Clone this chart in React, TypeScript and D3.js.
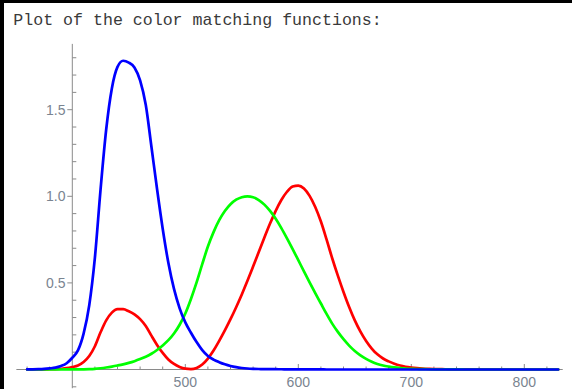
import React from "react";
import * as d3 from "d3";

// CIE 1931 2° standard observer, sampled every 5 nm
const wavelengths = [
  360, 365, 370, 375, 380, 385, 390, 395, 400, 405, 410, 415, 420, 425, 430, 435,
  440, 445, 450, 455, 460, 465, 470, 475, 480, 485, 490, 495, 500, 505, 510, 515,
  520, 525, 530, 535, 540, 545, 550, 555, 560, 565, 570, 575, 580, 585, 590, 595,
  600, 605, 610, 615, 620, 625, 630, 635, 640, 645, 650, 655, 660, 665, 670, 675,
  680, 685, 690, 695, 700, 705, 710, 715, 720, 725, 730, 735, 740, 745, 750, 755,
  760, 765, 770, 775, 780, 785, 790, 795, 800, 805, 810, 815, 820, 825, 830,
];

const xBar = [
  0.00013, 0.00023, 0.00042, 0.00074, 0.00137, 0.00224, 0.00424, 0.00765, 0.01431, 0.02319,
  0.04351, 0.07763, 0.13438, 0.21477, 0.2839, 0.3285, 0.34828, 0.34806, 0.3362, 0.3187,
  0.2908, 0.2511, 0.19536, 0.1421, 0.09564, 0.05795, 0.03201, 0.0147, 0.0049, 0.0024,
  0.0093, 0.0291, 0.06327, 0.1096, 0.1655, 0.22575, 0.2904, 0.3597, 0.43345, 0.51205,
  0.5945, 0.6784, 0.7621, 0.8425, 0.9163, 0.9786, 1.0263, 1.0567, 1.0622, 1.0456,
  1.0026, 0.9384, 0.85445, 0.7514, 0.6424, 0.5419, 0.4479, 0.3608, 0.2835, 0.2187,
  0.1649, 0.1212, 0.0874, 0.0636, 0.04677, 0.0329, 0.0227, 0.01584, 0.01136, 0.00811,
  0.00579, 0.00411, 0.0029, 0.00205, 0.00144, 0.001, 0.00069, 0.00048, 0.00033, 0.00024,
  0.00017, 0.00012, 0.00008, 0.00006, 0.00004, 0.00003, 0.00002, 0.00001, 0.00001, 0.00001,
  0.00001, 0, 0, 0, 0,
];

const yBar = [
  0, 0.00001, 0.00001, 0.00002, 0.00004, 0.00006, 0.00012, 0.00022, 0.0004, 0.00064,
  0.00121, 0.00218, 0.004, 0.0073, 0.0116, 0.01684, 0.023, 0.0298, 0.038, 0.048,
  0.06, 0.0739, 0.09098, 0.1126, 0.13902, 0.1693, 0.20802, 0.2586, 0.323, 0.4073,
  0.503, 0.6082, 0.71, 0.7932, 0.862, 0.91485, 0.954, 0.9803, 0.99495, 1.0,
  0.995, 0.9786, 0.952, 0.9154, 0.87, 0.8163, 0.757, 0.6949, 0.631, 0.5668,
  0.503, 0.4412, 0.381, 0.321, 0.265, 0.217, 0.175, 0.1382, 0.107, 0.0816,
  0.061, 0.04458, 0.032, 0.0232, 0.017, 0.01192, 0.00821, 0.00572, 0.0041, 0.00293,
  0.00209, 0.00148, 0.00105, 0.00074, 0.00052, 0.00036, 0.00025, 0.00017, 0.00012, 0.00008,
  0.00006, 0.00004, 0.00003, 0.00002, 0.00002, 0.00001, 0.00001, 0, 0, 0,
  0, 0, 0, 0, 0,
];

const zBar = [
  0.00061, 0.00109, 0.00195, 0.00349, 0.00645, 0.01055, 0.02005, 0.03621, 0.06785, 0.1102,
  0.2074, 0.3713, 0.6456, 1.03905, 1.3856, 1.62296, 1.74706, 1.7826, 1.77211, 1.7441,
  1.6692, 1.5281, 1.28764, 1.0419, 0.81295, 0.6162, 0.46518, 0.3533, 0.272, 0.2123,
  0.1582, 0.1117, 0.07825, 0.05725, 0.04216, 0.02984, 0.0203, 0.0134, 0.00875, 0.00575,
  0.0039, 0.00275, 0.0021, 0.0018, 0.00165, 0.0014, 0.0011, 0.001, 0.0008, 0.0006,
  0.00034, 0.00024, 0.00019, 0.0001, 0.00005, 0.00003, 0.00002, 0.00001, 0, 0,
  0, 0, 0, 0, 0, 0, 0, 0, 0, 0,
  0, 0, 0, 0, 0, 0, 0, 0, 0, 0,
  0, 0, 0, 0, 0, 0, 0, 0, 0, 0,
  0, 0, 0, 0, 0,
];

const xTickLabels = [500, 600, 700, 800];
const yTickLabels = [0.5, 1.0, 1.5];

const W = 572;
const H = 389;

export default function App() {
  const x = d3.scaleLinear().domain([400, 800]).range([72.3, 524.3]);
  const y = d3.scaleLinear().domain([0, 1]).range([369.5, 196.3]);

  const line = (vals: number[]) =>
    d3
      .line<number>()
      .x((_, i) => x(wavelengths[i]))
      .y((v) => y(v))
      .curve(d3.curveMonotoneX)(vals) || "";

  const series = [
    { vals: xBar, color: "#ff0000" },
    { vals: yBar, color: "#00ff00" },
    { vals: zBar, color: "#0000ff" },
  ];

  const axisColor = "#8a8a8a";
  const labelColor = "#7a8490";
  const x0 = x(400);
  const y0 = y(0);

  const xMinor = d3.range(360, 821, 20).filter((t) => t !== 400);
  const yMinor = d3.range(-1, 19).map((k) => k / 10).filter((t) => t !== 0);

  return (
    <svg
      width={W}
      height={H}
      style={{ position: "absolute", left: 0, top: 0, background: "#fff" }}
    >
      <rect x={0} y={0} width={W} height={H} fill="#fff" />
      {/* notebook frame */}
      <rect x={0} y={0} width={W} height={3} fill="#000" />
      <rect x={0} y={0} width={4} height={H} fill="#000" />

      <text
        x={13.3}
        y={25}
        fontFamily="'Liberation Mono', 'Courier New', monospace"
        fontSize={16.6}
        fill="#3a3a3a"
      >
        Plot of the color matching functions:
      </text>

      {/* axes */}
      <line x1={x(350.5)} x2={x(834)} y1={y0} y2={y0} stroke={axisColor} strokeWidth={1} />
      <line x1={x0} x2={x0} y1={y(1.88)} y2={y(-0.108)} stroke={axisColor} strokeWidth={1} />

      {xMinor.map((t) => {
        const major = xTickLabels.includes(t);
        return (
          <line
            key={"xt" + t}
            x1={x(t)}
            x2={x(t)}
            y1={y0}
            y2={y0 - (major ? 5.5 : 3)}
            stroke={axisColor}
            strokeWidth={1}
          />
        );
      })}
      {xTickLabels.map((t) => (
        <text
          key={"xl" + t}
          x={x(t)}
          y={386.5}
          textAnchor="middle"
          fontFamily="'Liberation Sans', Arial, sans-serif"
          fontSize={14}
          fill={labelColor}
        >
          {t}
        </text>
      ))}

      {yMinor.map((t) => {
        const major = yTickLabels.some((m) => Math.abs(m - t) < 1e-9);
        return (
          <line
            key={"yt" + t}
            x1={major ? x0 - 5 : x0}
            x2={major ? x0 : x0 + 4}
            y1={y(t)}
            y2={y(t)}
            stroke={axisColor}
            strokeWidth={1}
          />
        );
      })}
      {yTickLabels.map((t) => (
        <text
          key={"yl" + t}
          x={65.5}
          y={y(t) + 5}
          textAnchor="end"
          fontFamily="'Liberation Sans', Arial, sans-serif"
          fontSize={14}
          fill={labelColor}
        >
          {t.toFixed(1)}
        </text>
      ))}

      {series.map((s) => (
        <path
          key={s.color}
          d={line(s.vals)}
          fill="none"
          stroke={s.color}
          strokeWidth={2.7}
          strokeLinejoin="round"
          strokeLinecap="round"
        />
      ))}
    </svg>
  );
}
